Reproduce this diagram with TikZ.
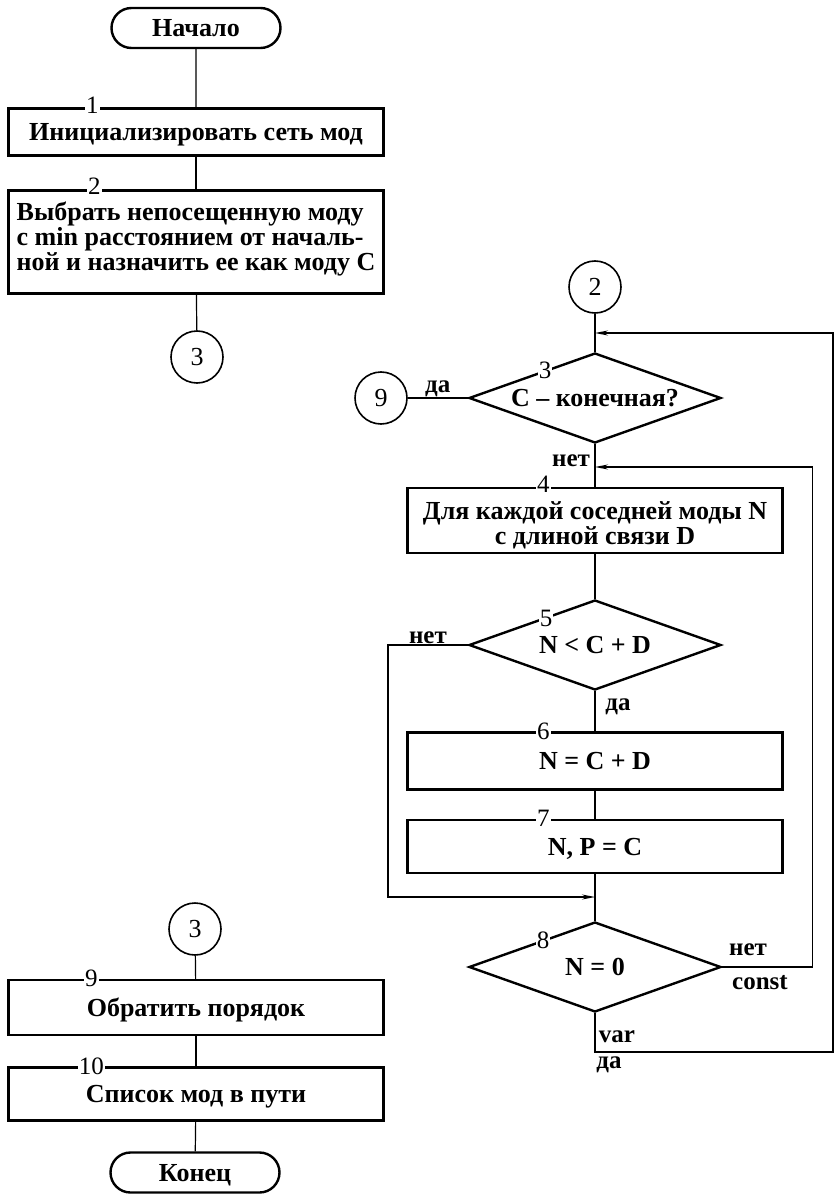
\documentclass[tikz,border=0pt]{standalone}
\usepackage{fontspec}
\setmainfont{Liberation Serif}
\usetikzlibrary{shapes.geometric,shapes.misc,arrows.meta}
\tikzset{
  base/.style={draw, line width=2.4pt, font=\bfseries\fontsize{26}{25}\selectfont, inner sep=0pt, text height=22pt, text depth=5pt},
  term/.style={base, rounded rectangle, minimum width=169pt, minimum height=40pt},
  proc/.style={base, rectangle, minimum width=375pt},
  decide/.style={base, diamond, aspect=2.8, minimum width=252pt, minimum height=90pt},
  conn/.style={draw, circle, line width=1.6pt, minimum size=52pt, inner sep=0pt, font=\fontsize{26}{29}\selectfont},
  num/.style={fill=white, inner sep=1pt, text height=16pt, text depth=0pt, font=\fontsize{25}{27}\selectfont},
  answer/.style={font=\bfseries\fontsize{25}{27}\selectfont, inner sep=1pt},
  line/.style={line width=1.2pt},
}
\begin{document}
\begin{tikzpicture}[x=1pt, y=-1pt, >={Stealth[length=13pt, width=5pt]}]
\useasboundingbox (0,0) rectangle (835,1198);
% left column, top part
\node[term] (start) at (196,28) {Начало};
\node[proc, minimum height=47pt] (b1) at (196,132) {Инициализировать сеть мод};
\node[proc, minimum height=103pt, align=left, text height={}, text depth=12pt] (b2) at (196,242) {Выбрать непосещенную моду\\с min расстоянием от началь-\\ной и назначить ее как моду C};
\node[conn] (c3a) at (197,357) {3};
\node[num] at ([xshift=85pt, yshift=2pt]b1.north west) {1};
\node[num] at ([xshift=87pt, yshift=3pt]b2.north west) {2};
\draw[line] (start) -- (b1);
\draw[line] (b1) -- (b2);
\draw[line] (b2) -- (c3a);

% right column
\node[conn] (c2) at (595,287) {2};
\node[decide] (d3) at (595,398) {C -- конечная?};
\node[conn] (c9) at (381,398) {9};
\node[proc, minimum height=65pt, align=center, text height=47pt, text depth=0pt] (b4) at (595,520.5) {Для каждой соседней моды N\\с длиной связи D};
\node[decide] (d5) at (595,645) {N < C + D};
\node[proc, minimum height=57pt] (b6) at (595,761) {N = C + D};
\node[proc, minimum height=53pt] (b7) at (595,846.5) {N, P = C};
\node[decide] (d8) at (595,967) {N = 0};
\node[num] at (545,370) {3};
\node[num] at ([xshift=137pt, yshift=2pt]b4.north west) {4};
\node[num] at (546,618) {5};
\node[num] at ([xshift=137pt]b6.north west) {6};
\node[num] at ([xshift=137pt]b7.north west) {7};
\node[num] at (543,940) {8};

\coordinate (top) at (595,333);
\coordinate (mid) at (595,467);
\coordinate (low) at (595,897);
\coordinate (byp) at (388,645);
\coordinate (outer) at (833,1052);

\draw[line] (c2) -- (d3);
\draw[line] (d3.west) -- node[answer, above] {да} (c9);
\draw[line] (d3) -- (b4);
\draw[line] (b4) -- (d5);
\draw[line] (d5) -- (b6);
\draw[line] (b6) -- (b7);
\draw[line] (b7) -- (d8);
\draw[line, ->] (d5.west) -- node[answer, above] {нет} (byp) |- (low);
\draw[line, ->] (d8.east) -- ++(90,0) |- (mid);
\draw[line, ->] (d8.south) |- (outer) |- (top);
\node[answer] at (571,461) {нет};
\node[answer] at (618,707) {да};
\node[answer] at (748,950) {нет};
\node[answer] at (760,983) {const};
\node[answer] at (617,1037) {var};
\node[answer] at (609,1065) {да};

% left column, bottom part
\node[conn] (c3b) at (195,929) {3};
\node[proc, minimum height=55pt] (b9) at (196,1007.5) {Обратить порядок};
\node[proc, minimum height=53pt] (b10) at (196,1094) {Список мод в пути};
\node[term] (stop) at (195,1172.5) {Конец};
\node[num] at ([xshift=84pt]b9.north west) {9};
\node[num] at ([xshift=84pt]b10.north west) {10};
\draw[line] (c3b) -- (b9);
\draw[line] (b9) -- (b10);
\draw[line] (b10) -- (stop);
\end{tikzpicture}
\end{document}
